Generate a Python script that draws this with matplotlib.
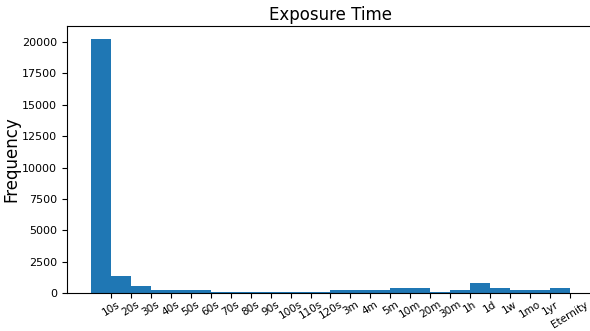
import numpy as np
import matplotlib
matplotlib.use("Agg")
import matplotlib.pyplot as plt

# tick labels mark the right edge of each bin
tick_labels = ["10s", "20s", "30s", "40s", "50s", "60s", "70s", "80s", "90s",
               "100s", "110s", "120s", "3m", "4m", "5m", "10m", "20m", "30m",
               "1h", "1d", "1w", "1mo", "1yr", "Eternity"]

# counts per bin (first bin ends at "10s")
counts = [20270, 1340, 580, 220, 220, 220, 80, 70, 60, 60, 50, 50,
          230, 230, 230, 400, 400, 60, 230, 800, 370, 230, 230, 400]

fig = plt.figure(figsize=(5.9, 3.31), dpi=100)
ax = fig.add_axes([0.1136, 0.1148, 0.893, 0.8067])

edges = np.arange(len(counts)) - 1
ax.bar(edges, counts, width=1.0, align="edge", color="#1f77b4")

ax.set_xticks(np.arange(len(tick_labels)))
ax.set_xticklabels(tick_labels, rotation=32, fontsize=7.5)
ax.tick_params(axis="x", pad=1)
ax.tick_params(axis="y", labelsize=8)
ax.set_xlim(-2.2, 24.2)
ax.set_ylim(0, max(counts) * 1.05)

ax.set_title("Exposure Time", fontsize=12, pad=4)
ax.set_ylabel("Frequency", fontsize=12, labelpad=1)

fig.savefig("out.png", dpi=100)
